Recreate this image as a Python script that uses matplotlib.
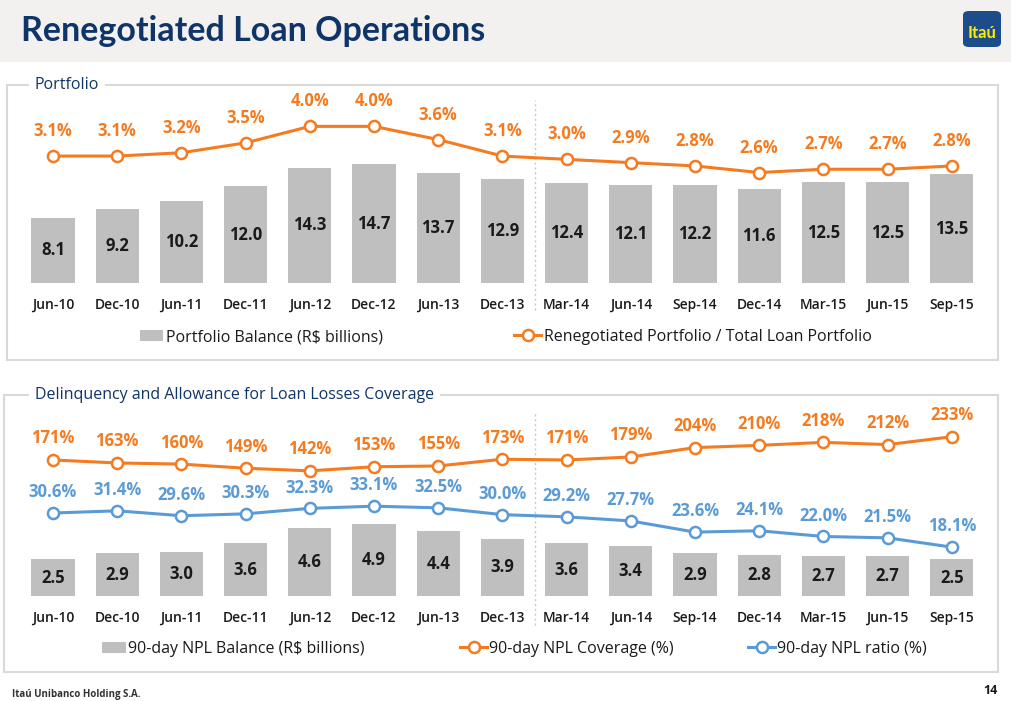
import matplotlib
matplotlib.use('Agg')
import matplotlib.pyplot as plt
from matplotlib.patches import Rectangle, FancyBboxPatch, Patch
from matplotlib.lines import Line2D

plt.rcParams['font.family'] = ['Open Sans', 'DejaVu Sans']

# data
periods = ['Jun-10', 'Dec-10', 'Jun-11', 'Dec-11', 'Jun-12', 'Dec-12', 'Jun-13', 'Dec-13',
           'Mar-14', 'Jun-14', 'Sep-14', 'Dec-14', 'Mar-15', 'Jun-15', 'Sep-15']
portfolio_balance = [8.1, 9.2, 10.2, 12.0, 14.3, 14.7, 13.7, 12.9, 12.4, 12.1, 12.2, 11.6, 12.5, 12.5, 13.5]
reneg_share = [3.1, 3.1, 3.2, 3.5, 4.0, 4.0, 3.6, 3.1, 3.0, 2.9, 2.8, 2.6, 2.7, 2.7, 2.8]
npl_balance = [2.5, 2.9, 3.0, 3.6, 4.6, 4.9, 4.4, 3.9, 3.6, 3.4, 2.9, 2.8, 2.7, 2.7, 2.5]
npl_coverage = [171, 163, 160, 149, 142, 153, 155, 173, 171, 179, 204, 210, 218, 212, 233]
npl_ratio = [30.6, 31.4, 29.6, 30.3, 32.3, 33.1, 32.5, 30.0, 29.2, 27.7, 23.6, 24.1, 22.0, 21.5, 18.1]

W, H = 1011, 701
ORANGE = '#f47b20'
BLUE = '#5b9bd5'
GRAY = '#bfbfbf'
NAVY = '#0f3468'
TXT = '#1a1a1a'


def fx(x):
    return x / W


def fy(y):
    return 1 - y / H


fig = plt.figure(figsize=(W / 100, H / 100), dpi=100, facecolor='white')

# header band, title, logo
fig.patches.append(Rectangle((0, fy(62)), 1, 62 / H, transform=fig.transFigure,
                             facecolor='#f2f1ef', edgecolor='none', zorder=0))
fig.text(fx(21), fy(31), 'Renegotiated Loan Operations', ha='left', va='center',
         fontsize=24.5, fontweight='bold', color=NAVY, family=['Lato', 'DejaVu Sans'])
fig.patches.append(FancyBboxPatch((fx(963), fy(47)), 38 / W, 36 / H,
                                  boxstyle='round,pad=0,rounding_size=0.006',
                                  transform=fig.transFigure, facecolor='#1d4c8b',
                                  edgecolor='none', zorder=1))
fig.text(fx(982), fy(33), 'Itaú', ha='center', va='center', fontsize=12,
         fontweight='bold', color='#ffec00', family=['Lato', 'DejaVu Sans'])

# panel frames
for (x0, y0, x1, y1, title) in [(7, 85, 998, 360, 'Portfolio'),
                                (4, 395, 998, 672, 'Delinquency and Allowance for Loan Losses Coverage')]:
    fig.patches.append(Rectangle((fx(x0), fy(y1)), (x1 - x0) / W, (y1 - y0) / H,
                                 transform=fig.transFigure, facecolor='none',
                                 edgecolor='#d9d9d9', linewidth=1.5, zorder=1))
    fig.text(fx(35), fy(y0), title, ha='left', va='center', fontsize=11.5, color=NAVY,
             bbox=dict(facecolor='white', edgecolor='none', pad=4), zorder=3)

x = list(range(len(periods)))

# ---------- top panel ----------
ax1 = fig.add_axes([fx(20.9), fy(283), 963 / W, 183 / H])
ax1.bar(x, portfolio_balance, width=0.67, color=GRAY, zorder=2)
ax1.set_xlim(-0.5, 14.5)
ax1.set_ylim(0, 22.7)
for i, v in enumerate(portfolio_balance):
    ax1.text(i, v / 2, f'{v:.1f}', ha='center', va='center', fontsize=12,
             fontweight='bold', color=TXT, zorder=3)
ax1.set_xticks(x)
ax1.set_xticklabels(periods, fontsize=10, fontweight='semibold', color=TXT)
ax1.tick_params(axis='x', length=0, pad=11)
ax1.set_yticks([])
for s in ax1.spines.values():
    s.set_visible(False)
ax1.axvline(7.5, ymin=-0.148, ymax=1.0, color='#c8c8c8', linestyle=(0, (1.5, 2)),
            linewidth=1, clip_on=False, zorder=1)

ax1b = ax1.twinx()
ax1b.set_ylim(-0.75, 4.80)
ax1b.plot(x, reneg_share, color=ORANGE, linewidth=2.2, marker='o', markersize=8,
          markerfacecolor='white', markeredgecolor=ORANGE, markeredgewidth=1.8, zorder=4)
for i, v in enumerate(reneg_share):
    ax1b.annotate(f'{v:.1f}%', (i, v), xytext=(0, 18), textcoords='offset points',
                  ha='center', va='center', fontsize=12, fontweight='bold', color=ORANGE)
ax1b.set_yticks([])
for s in ax1b.spines.values():
    s.set_visible(False)

# legend top
fig.legend(handles=[Patch(facecolor=GRAY, edgecolor='none', label='Portfolio Balance (R$ billions)')],
           loc='center left', bbox_to_anchor=(fx(140), fy(337)), frameon=False,
           borderaxespad=0, borderpad=0, handlelength=1.45, handleheight=0.65,
           handletextpad=0.15, fontsize=11.5, labelcolor=TXT)
fig.legend(handles=[Line2D([], [], color=ORANGE, linewidth=2.2, marker='o', markersize=8,
                           markerfacecolor='white', markeredgecolor=ORANGE, markeredgewidth=1.8,
                           label='Renegotiated Portfolio / Total Loan Portfolio')],
           loc='center left', bbox_to_anchor=(fx(514), fy(337)), frameon=False,
           borderaxespad=0, borderpad=0, handlelength=1.7, handletextpad=0.15,
           fontsize=11.5, labelcolor=TXT)

# ---------- bottom panel ----------
ax2 = fig.add_axes([fx(20.9), fy(596), 963 / W, 176 / H])
ax2.bar(x, npl_balance, width=0.67, color=GRAY, zorder=2)
ax2.set_xlim(-0.5, 14.5)
ax2.set_ylim(0, 11.97)
for i, v in enumerate(npl_balance):
    ax2.text(i, v / 2, f'{v:.1f}', ha='center', va='center', fontsize=12,
             fontweight='bold', color=TXT, zorder=3)
ax2.set_xticks(x)
ax2.set_xticklabels(periods, fontsize=10, fontweight='semibold', color=TXT)
ax2.tick_params(axis='x', length=0, pad=11)
ax2.set_yticks([])
for s in ax2.spines.values():
    s.set_visible(False)
ax2.axvline(7.5, ymin=-0.165, ymax=1.045, color='#c8c8c8', linestyle=(0, (1.5, 2)),
            linewidth=1, clip_on=False, zorder=1)

ax2b = ax2.twinx()
ax2b.set_ylim(-191.7, 277.6)
ax2b.plot(x, npl_coverage, color=ORANGE, linewidth=2.2, marker='o', markersize=8,
          markerfacecolor='white', markeredgecolor=ORANGE, markeredgewidth=1.8, zorder=4)
for i, v in enumerate(npl_coverage):
    ax2b.annotate(f'{v}%', (i, v), xytext=(0, 15.5), textcoords='offset points',
                  ha='center', va='center', fontsize=12, fontweight='bold', color=ORANGE)
ax2b.set_yticks([])
for s in ax2b.spines.values():
    s.set_visible(False)

ax2c = ax2.twinx()
ax2c.set_ylim(0.2, 64.67)
ax2c.plot(x, npl_ratio, color=BLUE, linewidth=2.2, marker='o', markersize=8,
          markerfacecolor='white', markeredgecolor=BLUE, markeredgewidth=1.8, zorder=4)
for i, v in enumerate(npl_ratio):
    ax2c.annotate(f'{v:.1f}%', (i, v), xytext=(0, 15), textcoords='offset points',
                  ha='center', va='center', fontsize=12, fontweight='bold', color=BLUE)
ax2c.set_yticks([])
for s in ax2c.spines.values():
    s.set_visible(False)

# legend bottom
fig.legend(handles=[Patch(facecolor=GRAY, edgecolor='none', label='90-day NPL Balance (R$ billions)')],
           loc='center left', bbox_to_anchor=(fx(102), fy(649)), frameon=False,
           borderaxespad=0, borderpad=0, handlelength=1.5, handleheight=0.65,
           handletextpad=0.15, fontsize=11.5, labelcolor=TXT)
fig.legend(handles=[Line2D([], [], color=ORANGE, linewidth=2.2, marker='o', markersize=8,
                           markerfacecolor='white', markeredgecolor=ORANGE, markeredgewidth=1.8,
                           label='90-day NPL Coverage (%)')],
           loc='center left', bbox_to_anchor=(fx(460), fy(649)), frameon=False,
           borderaxespad=0, borderpad=0, handlelength=1.7, handletextpad=0.1,
           fontsize=11.5, labelcolor=TXT)
fig.legend(handles=[Line2D([], [], color=BLUE, linewidth=2.2, marker='o', markersize=8,
                           markerfacecolor='white', markeredgecolor=BLUE, markeredgewidth=1.8,
                           label='90-day NPL ratio (%)')],
           loc='center left', bbox_to_anchor=(fx(748), fy(649)), frameon=False,
           borderaxespad=0, borderpad=0, handlelength=1.7, handletextpad=0.1,
           fontsize=11.5, labelcolor=TXT)

# footer
fig.text(fx(12), fy(695), 'Itaú Unibanco Holding S.A.', ha='left', va='center',
         fontsize=7, fontweight='bold', color='#333333')
fig.text(fx(998), fy(691), '14', ha='right', va='center', fontsize=9,
         fontweight='bold', color=TXT)

fig.savefig('out.png', dpi=100, facecolor='white')
